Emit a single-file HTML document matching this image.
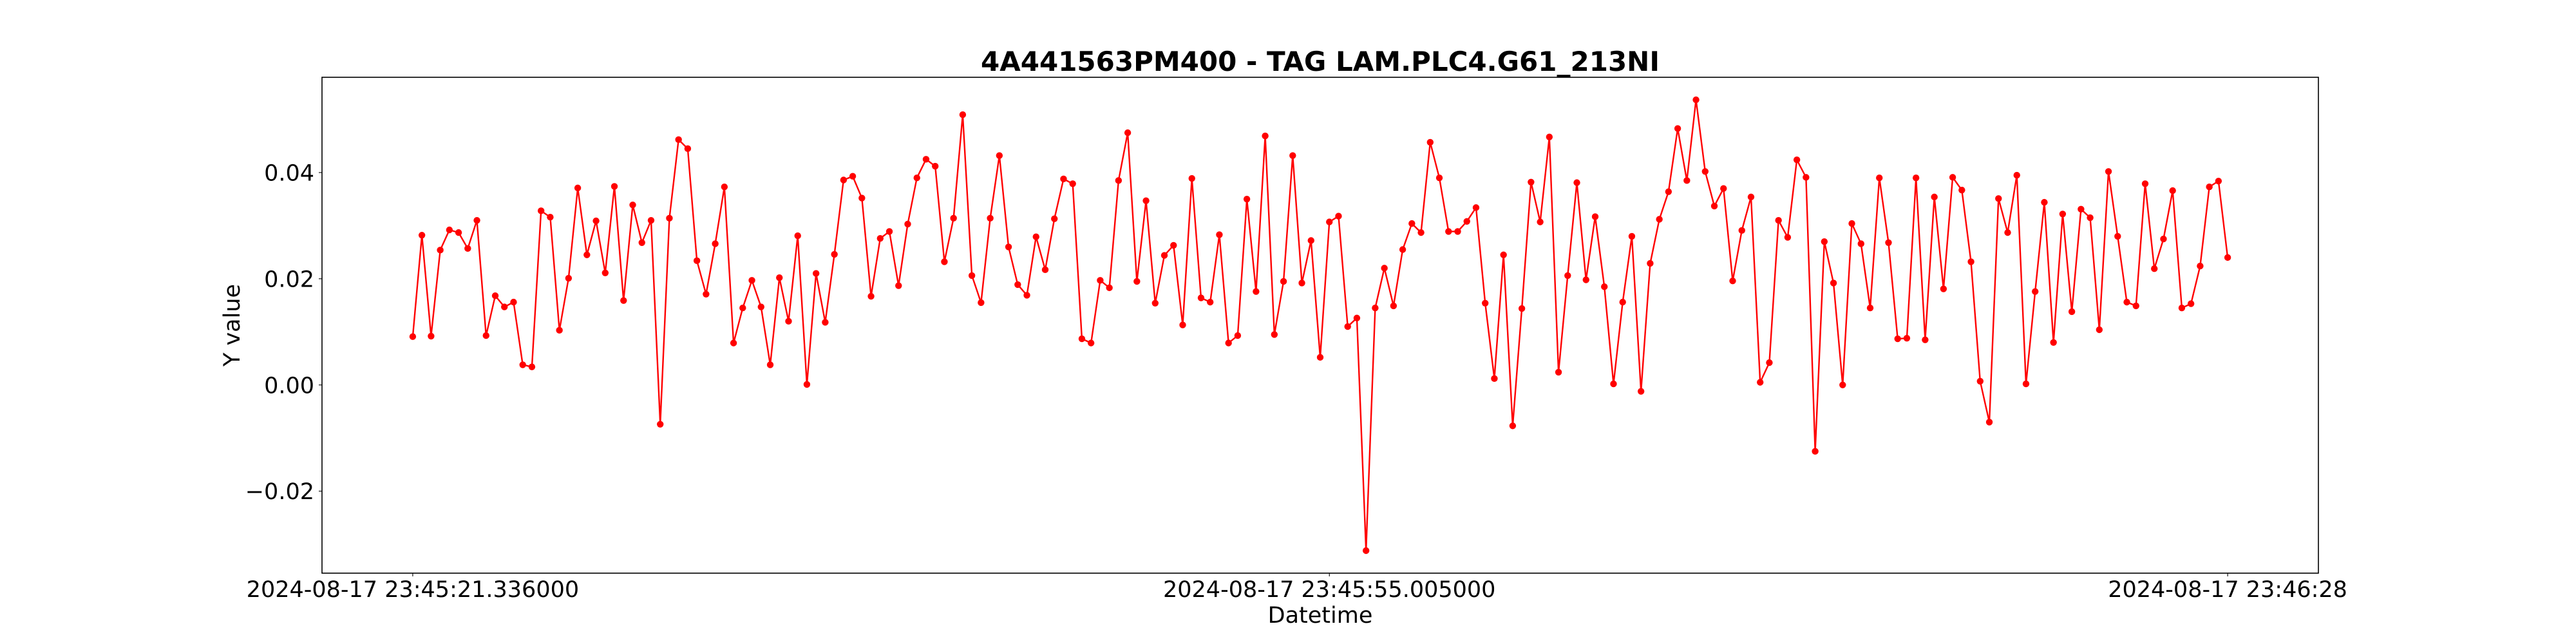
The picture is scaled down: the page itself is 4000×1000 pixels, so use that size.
<!DOCTYPE html>
<html><head><meta charset="utf-8"><style>
html,body{margin:0;padding:0;background:#fff;}
svg{display:block;font-family:"DejaVu Sans","Liberation Sans",sans-serif;}
</style></head><body>
<svg id="chart" width="4000" height="1000" viewBox="0 0 4000 1000" xmlns="http://www.w3.org/2000/svg">
<rect x="0" y="0" width="4000" height="1000" fill="#fff"/>
<text x="2050" y="110" text-anchor="middle" font-size="42" font-weight="bold">4A441563PM400 - TAG LAM.PLC4.G61_213NI</text>
<g id="plot"></g>
<rect x="500" y="120" width="3100" height="770" fill="none" stroke="#000" stroke-width="1.6"/>
<text x="2050" y="967" text-anchor="middle" font-size="35">Datetime</text>
<text transform="translate(372,505) rotate(-90)" text-anchor="middle" font-size="35">Y value</text>
</svg>
<script>
const values = [0.0091,0.0282,0.0092,0.0254,0.0292,0.0287,0.0257,0.0310,0.0093,0.0168,0.0147,0.0156,0.0038,0.0034,0.0328,0.0316,0.0103,0.0201,0.0371,0.0245,0.0309,0.0211,0.0374,0.0159,0.0339,0.0268,
0.0310,-0.0074,0.0314,0.0462,0.0445,0.0234,0.0171,0.0266,0.0373,0.0079,0.0145,0.0197,0.0147,0.0038,0.0202,0.0120,0.0281,0.0001,0.0210,0.0118,0.0246,0.0386,0.0393,0.0352,0.0167,0.0276,0.0289,0.0187,0.0303,0.0390,0.0425,0.0412,0.0232,0.0314,0.0509,0.0206,0.0155,0.0314,0.0432,0.0260,0.0189,0.0169,0.0279,0.0217,0.0313,0.0388,0.0379,0.0087,0.0079,
0.0197,0.0183,0.0385,0.0475,0.0195,0.0347,0.0154,0.0244,0.0263,0.0113,0.0389,0.0164,0.0156,0.0283,0.0079,0.0093,0.0350,0.0176,0.0469,0.0095,0.0195,0.0432,0.0192,0.0272,0.0052,0.0307,0.0318,0.0110,0.0126,-0.0312,0.0145,0.0220,0.0149,0.0255,0.0304,0.0287,0.0457,0.0390,0.0289,0.0289,0.0308,0.0334,0.0154,0.0012,0.0245,-0.0077,0.0144,0.0382,0.0307,
0.0467,0.0024,0.0206,0.0381,0.0198,0.0317,0.0185,0.0002,0.0156,0.0280,-0.0012,0.0229,0.0312,0.0364,0.0483,0.0385,0.0537,0.0402,0.0337,0.0370,0.0196,0.0291,0.0354,0.0005,0.0042,0.0310,0.0278,0.0424,0.0391,-0.0125,0.0270,0.0192,0.0000,0.0304,0.0266,0.0145,0.0390,0.0268,0.0087,0.0088,0.0390,0.0085,0.0354,0.0181,0.0391,0.0367,0.0232,0.0007,-0.0070,
0.0351,0.0287,0.0395,0.0002,0.0176,0.0344,0.0080,0.0322,0.0138,0.0331,0.0315,0.0104,0.0402,0.0280,0.0156,0.0149,0.0379,0.0219,0.0275,0.0366,0.0145,0.0153,0.0224,0.0373,0.0384,0.0240];
const startSec = 21.336;
const endSec = 88.0;
const xTickSecs = [21.336, 55.005, 88.0];
const xTickLabels = ["2024-08-17 23:45:21.336000","2024-08-17 23:45:55.005000","2024-08-17 23:46:28"];
const yTicks = [-0.02, 0.00, 0.02, 0.04];
const yTickLabels = ["\u22120.02","0.00","0.02","0.04"];

const NS = "http://www.w3.org/2000/svg";
const L = 500, R = 3600, T = 120, B = 890;
const n = values.length;
const times = values.map((v, i) => startSec + (endSec - startSec) * i / (n - 1));
const tMin = Math.min(...times), tMax = Math.max(...times), tR = tMax - tMin;
const x0 = tMin - 0.05 * tR, x1 = tMax + 0.05 * tR;
const vMin = Math.min(...values), vMax = Math.max(...values), vR = vMax - vMin;
const y0 = vMin - 0.05 * vR, y1 = vMax + 0.05 * vR;
const xs = t => L + (t - x0) / (x1 - x0) * (R - L);
const ys = v => B - (v - y0) / (y1 - y0) * (B - T);
const svg = document.getElementById("chart");
const plot = document.getElementById("plot");
function mk(tag, attrs, parent) {
  const e = document.createElementNS(NS, tag);
  for (const k in attrs) e.setAttribute(k, attrs[k]);
  parent.appendChild(e);
  return e;
}
const pts = values.map((v, i) => xs(times[i]).toFixed(2) + "," + ys(v).toFixed(2)).join(" ");
const line = mk("polyline", {points: pts, fill: "none", stroke: "#ff0000", "stroke-width": 2.4, "stroke-linejoin": "round"}, plot);


values.forEach((v, i) => {
  const c = mk("circle", {cx: xs(times[i]).toFixed(2), cy: ys(v).toFixed(2), r: 5.2, fill: "#ff0000"}, plot);
  
  
});
xTickSecs.forEach((t, i) => {
  const x = xs(t);
  const tk = mk("line", {x1: x, x2: x, y1: B, y2: B + 5, stroke: "#000", "stroke-width": 1.1}, svg);
  
  
  const tx = mk("text", {x: x, y: 927, "text-anchor": "middle", "font-size": 35}, svg);
  tx.textContent = xTickLabels[i];
  
  
});
yTicks.forEach((v, i) => {
  const y = ys(v);
  const tk = mk("line", {x1: L - 5, x2: L, y1: y, y2: y, stroke: "#000", "stroke-width": 1.1}, svg);
  
  
  const tx = mk("text", {x: 488, y: y + 12.5, "text-anchor": "end", "font-size": 35}, svg);
  tx.textContent = yTickLabels[i];
  
  
});
</script>
</body></html>
